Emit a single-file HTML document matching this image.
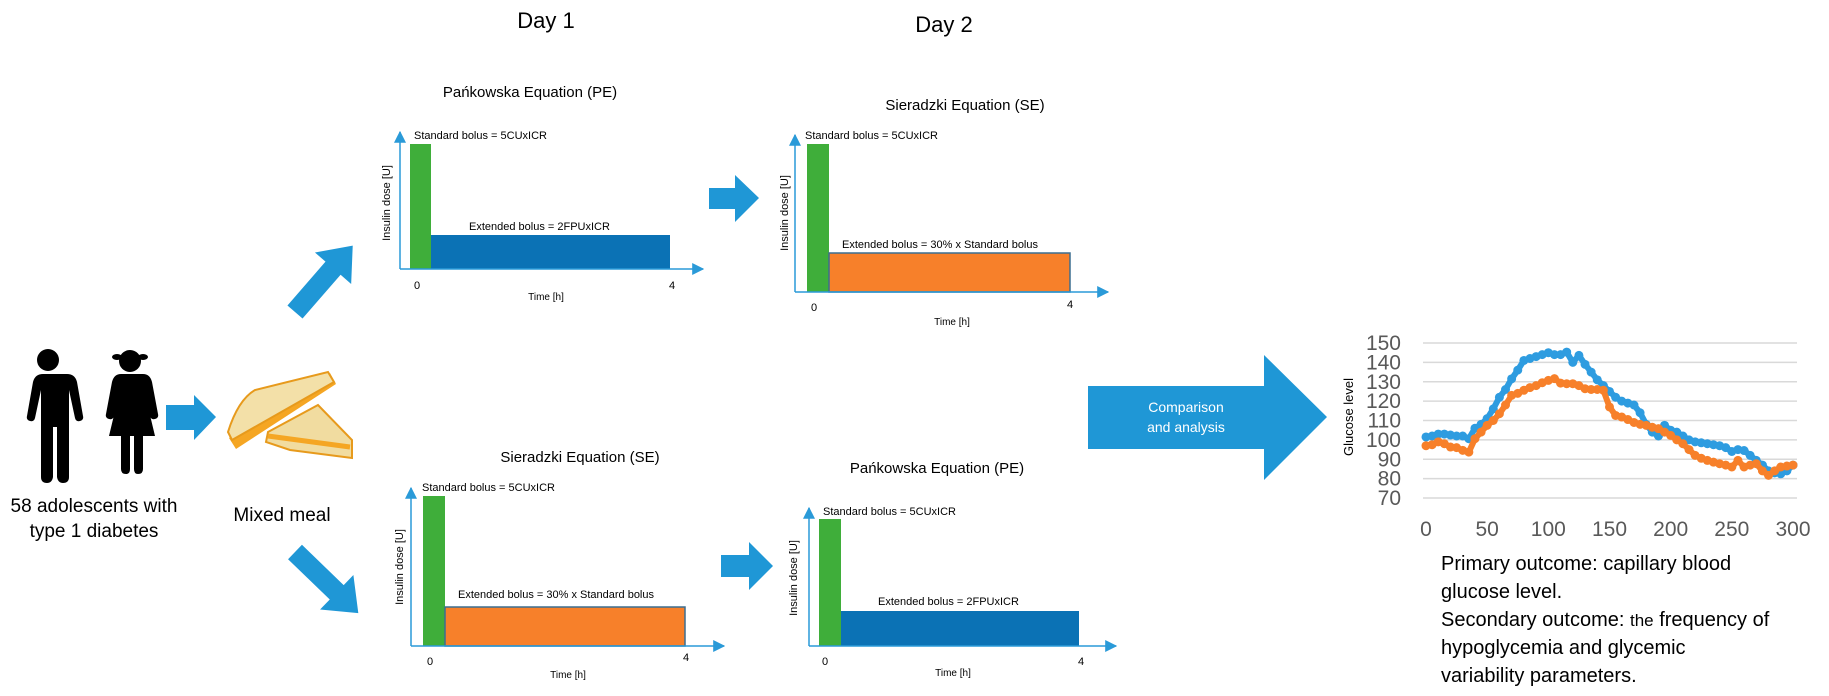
<!DOCTYPE html>
<html><head><meta charset="utf-8">
<style>
html,body{margin:0;padding:0;background:#fff;}
svg{display:block;}
text{font-family:"Liberation Sans",sans-serif;}
</style></head>
<body>
<svg id="root" width="1829" height="696" viewBox="0 0 1829 696" xmlns="http://www.w3.org/2000/svg">
<defs>
<marker id="ah" markerWidth="8" markerHeight="8" refX="6" refY="4" orient="auto" markerUnits="userSpaceOnUse"><path d="M0,0 L8,4 L0,8 Z" fill="#2a9ad8"/></marker>
<marker id="ah2" viewBox="0 0 10 10" markerWidth="12" markerHeight="14" refX="9" refY="5" orient="auto" markerUnits="userSpaceOnUse"><path d="M0,0 L10,5 L0,10 Z" fill="#2a9ad8"/></marker>
</defs>

<text x="546" y="28" font-size="22" text-anchor="middle">Day 1</text>
<text x="944" y="32" font-size="22" text-anchor="middle">Day 2</text>

<!-- People -->
<g fill="#000">
<circle cx="48" cy="360" r="11"/>
<path d="M30,374 h37 q8,0 10,8 l6,34 q1,4 -3,5 q-4,1 -5,-3 l-6,-28 v87 q0,6 -6,6 q-5,0 -6,-6 v-50 h-4 v50 q-1,6 -6,6 q-6,0 -6,-6 v-87 l-6,28 q-1,4 -5,3 q-4,-1 -3,-5 l6,-34 q2,-8 10,-8z"/>
</g>
<g fill="#000">
<circle cx="130" cy="361" r="11"/>
<ellipse cx="117" cy="357" rx="5" ry="3"/><ellipse cx="143" cy="357" rx="5" ry="3"/>
<path d="M117,374 h26 q7,0 9,8 l6,32 q1,4 -3,5 q-4,1 -5,-3 l-6,-26 l11,46 h-12 v33 q0,5 -5,5 q-4,0 -4,-5 v-33 h-4 v33 q0,5 -4,5 q-5,0 -5,-5 v-33 h-12 l11,-46 l-6,26 q-1,4 -5,3 q-4,-1 -3,-5 l6,-32 q2,-8 9,-8z"/>
</g>
<path d="M166,405 h28 v-10 l22,22 l-22,23 v-10 h-28z" fill="#1f97d6"/>

<!-- Sandwich -->
<g>
<path d="M268,432 L318,405 L352,440 L352,458 L290,450 L266,442 Z" fill="#f1dca0" stroke="#e79a1c" stroke-width="2"/>
<path d="M268,436 L350,447" stroke="#f5a623" stroke-width="5"/>
<path d="M229,438 L330,373 L336,384 L236,449 Z" fill="#f5a623"/>
<path d="M228,432 Q238,400 255,390 L328,372 L334,382 L232,440 Z" fill="#f3e0a8" stroke="#e79a1c" stroke-width="2"/>
</g>

<text font-size="19" text-anchor="middle"><tspan x="94" y="512">58 adolescents with</tspan><tspan x="94" y="537">type 1 diabetes</tspan></text>
<text x="282" y="521" font-size="19" text-anchor="middle">Mixed meal</text>

<!-- diagonal arrows -->
<g transform="translate(295,312) rotate(-49)">
<path d="M0,-10 h58 v-14 l30,24 l-30,24 v-14 h-58z" fill="#1f97d6"/></g>
<g transform="translate(295,552) rotate(44)">
<path d="M0,-10 h58 v-14 l30,24 l-30,24 v-14 h-58z" fill="#1f97d6"/></g>

<!-- panel arrows -->
<path d="M709,188 h26 v-13 l24,23 l-24,24 v-13 h-26z" fill="#1f97d6"/>
<path d="M721,555 h28 v-13 l24,24 l-24,24 v-13 h-28z" fill="#1f97d6"/>

<!-- Panel 1: Day1 PE -->
<g>
<text x="530" y="97" font-size="15" text-anchor="middle">Pańkowska Equation (PE)</text>
<rect x="410" y="144" width="21" height="125" fill="#3fae3a"/>
<rect x="431" y="235" width="239" height="34" fill="#0b72b5"/>
<line x1="400" y1="269" x2="400" y2="132" stroke="#2a9ad8" stroke-width="1.5" marker-end="url(#ah2)"/>
<line x1="400" y1="269" x2="703" y2="269" stroke="#2a9ad8" stroke-width="1.5" marker-end="url(#ah2)"/>
<text x="414" y="139" font-size="11">Standard bolus  = 5CUxICR</text>
<text x="469" y="230" font-size="11">Extended bolus = 2FPUxICR</text>
<text x="417" y="289" font-size="11" text-anchor="middle">0</text>
<text x="672" y="289" font-size="11" text-anchor="middle">4</text>
<text x="546" y="300" font-size="10" text-anchor="middle">Time [h]</text>
<text transform="translate(390,203) rotate(-90)" font-size="11" text-anchor="middle">Insulin dose [U]</text>
</g>

<!-- Panel 2: Day2 SE -->
<g>
<text x="965" y="110" font-size="15" text-anchor="middle">Sieradzki Equation (SE)</text>
<rect x="807" y="144" width="22" height="148" fill="#3fae3a"/>
<rect x="829" y="253" width="241" height="39" fill="#f7802a" stroke="#3c6e90" stroke-width="1.5"/>
<line x1="795" y1="292" x2="795" y2="135" stroke="#2a9ad8" stroke-width="1.5" marker-end="url(#ah2)"/>
<line x1="795" y1="292" x2="1108" y2="292" stroke="#2a9ad8" stroke-width="1.5" marker-end="url(#ah2)"/>
<text x="805" y="139" font-size="11">Standard bolus = 5CUxICR</text>
<text x="842" y="248" font-size="11">Extended bolus = 30% x Standard bolus</text>
<text x="814" y="311" font-size="11" text-anchor="middle">0</text>
<text x="1070" y="308" font-size="11" text-anchor="middle">4</text>
<text x="952" y="325" font-size="10" text-anchor="middle">Time [h]</text>
<text transform="translate(788,213) rotate(-90)" font-size="11" text-anchor="middle">Insulin dose [U]</text>
</g>

<!-- Panel 3: Day1 SE -->
<g>
<text x="580" y="462" font-size="15" text-anchor="middle">Sieradzki Equation (SE)</text>
<rect x="423" y="496" width="22" height="150" fill="#3fae3a"/>
<rect x="445" y="607" width="240" height="39" fill="#f7802a" stroke="#3c6e90" stroke-width="1.5"/>
<line x1="411" y1="646" x2="411" y2="488" stroke="#2a9ad8" stroke-width="1.5" marker-end="url(#ah2)"/>
<line x1="411" y1="646" x2="724" y2="646" stroke="#2a9ad8" stroke-width="1.5" marker-end="url(#ah2)"/>
<text x="422" y="491" font-size="11">Standard bolus = 5CUxICR</text>
<text x="458" y="598" font-size="11">Extended bolus = 30% x Standard bolus</text>
<text x="430" y="665" font-size="11" text-anchor="middle">0</text>
<text x="686" y="661" font-size="11" text-anchor="middle">4</text>
<text x="568" y="678" font-size="10" text-anchor="middle">Time [h]</text>
<text transform="translate(403,567) rotate(-90)" font-size="11" text-anchor="middle">Insulin dose [U]</text>
</g>

<!-- Panel 4: Day2 PE -->
<g>
<text x="937" y="473" font-size="15" text-anchor="middle">Pańkowska Equation (PE)</text>
<rect x="819" y="519" width="22" height="127" fill="#3fae3a"/>
<rect x="841" y="611" width="238" height="35" fill="#0b72b5"/>
<line x1="809" y1="646" x2="809" y2="508" stroke="#2a9ad8" stroke-width="1.5" marker-end="url(#ah2)"/>
<line x1="809" y1="646" x2="1116" y2="646" stroke="#2a9ad8" stroke-width="1.5" marker-end="url(#ah2)"/>
<text x="823" y="515" font-size="11">Standard bolus  = 5CUxICR</text>
<text x="878" y="605" font-size="11">Extended bolus = 2FPUxICR</text>
<text x="825" y="665" font-size="11" text-anchor="middle">0</text>
<text x="1081" y="665" font-size="11" text-anchor="middle">4</text>
<text x="953" y="676" font-size="10" text-anchor="middle">Time [h]</text>
<text transform="translate(797,578) rotate(-90)" font-size="11" text-anchor="middle">Insulin dose [U]</text>
</g>

<!-- Big arrow -->
<path d="M1088,386 h176 v-31 l63,62 l-63,63 v-31 h-176z" fill="#1f97d6"/>
<text font-size="14" fill="#fff" text-anchor="middle"><tspan x="1186" y="412">Comparison</tspan><tspan x="1186" y="432">and analysis</tspan></text>

<!-- Glucose chart -->
<g id="chart"></g>

<text font-size="20">
<tspan x="1441" y="570">Primary outcome: capillary blood</tspan>
<tspan x="1441" y="598">glucose level.</tspan>
<tspan x="1441" y="626">Secondary outcome: <tspan font-size="17">the</tspan> frequency of</tspan>
<tspan x="1441" y="654">hypoglycemia and glycemic</tspan>
<tspan x="1441" y="682">variability parameters.</tspan>
</text>
</svg>
<script>
const yTicks = [70,80,90,100,110,120,130,140,150];
const xTicks = [0,50,100,150,200,250,300];
const blueT = [0,5,10,15,20,25,30,35,40,45,50,55,60,65,70,75,80,85,90,95,100,105,110,115,120,125,130,135,140,145,150,155,160,165,170,175,180,185,190,195,200,205,210,215,220,225,230,235,240,245,250,255,260,265,270,275,280,285,290,295,300];
const blueV = [101.5,102,103,103,102.5,102,102,100.6,106,108,111,116,122,126,131.5,136,141,142,143,144,145,144,144,145.3,140,143.6,139,135,131,128,125,122,120,119,118,114,108,104,102,107.5,105,104,102,100,99,98.5,98,97.5,97,96,94,95,94.5,92,89.4,87,84,83,82.5,84,87];
const orangeT = [0,5,10,15,20,25,30,35,40,45,50,55,60,65,70,75,80,85,90,95,100,105,110,115,120,125,130,135,140,145,150,155,160,165,170,175,180,185,190,195,200,205,210,215,220,225,230,235,240,245,250,255,260,265,270,275,280,285,290,295,300];
const orangeV = [97,97.5,99,98,96.3,96,94.6,93.7,100.6,104,107.5,110,113.5,118,123,124,125.6,127,128,129.5,130.7,131.6,129.3,129,129,128,126.4,126,126,125.6,117,112.6,111.8,110.5,109,108,107.5,106.5,105.8,104,102.3,100,98,95,92,90.5,89.4,88.5,87.7,87,86,89.4,86,87,87.7,84,81.7,84,86,86.5,87];
const X0=1426, X1=1793, Y0=498, Y1=343;
function xs(t){return X0+(t-0)/(300-0)*(X1-X0);}
function ys(v){return Y0-(v-70)/(150-70)*(Y0-Y1);}
const NS="http://www.w3.org/2000/svg";
const g=document.getElementById('chart');
yTicks.forEach(v=>{
  const l=document.createElementNS(NS,'line');
  
  
  l.setAttribute('x1',1423);l.setAttribute('x2',1797);
  l.setAttribute('y1',ys(v));l.setAttribute('y2',ys(v));
  l.setAttribute('stroke','#d9d9d9');l.setAttribute('stroke-width','1.5');
  g.appendChild(l);
  const t=document.createElementNS(NS,'text');
  
  
  t.setAttribute('x',1401);t.setAttribute('y',ys(v)+7);
  t.setAttribute('font-size','21');t.setAttribute('fill','#595959');t.setAttribute('text-anchor','end');
  t.textContent=v;g.appendChild(t);
});
xTicks.forEach(v=>{
  const t=document.createElementNS(NS,'text');
  
  
  t.setAttribute('x',xs(v));t.setAttribute('y',536);
  t.setAttribute('font-size','21');t.setAttribute('fill','#595959');t.setAttribute('text-anchor','middle');
  t.textContent=v;g.appendChild(t);
});
const yl=document.createElementNS(NS,'text');


yl.setAttribute('transform','translate(1353,417) rotate(-90)');
yl.setAttribute('font-size','13');yl.setAttribute('text-anchor','middle');
yl.textContent='Glucose level';g.appendChild(yl);
function series(T,V,color,name){
  const p=document.createElementNS(NS,'polyline');
  
  
  p.setAttribute('points',T.map((t,i)=>xs(t)+','+ys(V[i])).join(' '));
  p.setAttribute('fill','none');p.setAttribute('stroke',color);p.setAttribute('stroke-width','6');
  p.setAttribute('stroke-linejoin','round');p.setAttribute('stroke-linecap','round');
  g.appendChild(p);
  T.forEach((t,i)=>{
    const c=document.createElementNS(NS,'circle');
    
    
    c.setAttribute('cx',xs(t));c.setAttribute('cy',ys(V[i]));c.setAttribute('r',4.5);
    c.setAttribute('fill',color);g.appendChild(c);
  });
}
series(blueT,blueV,'#2e9ce0','blue-series');
series(orangeT,orangeV,'#f7802a','orange-series');
</script>
</body></html>
